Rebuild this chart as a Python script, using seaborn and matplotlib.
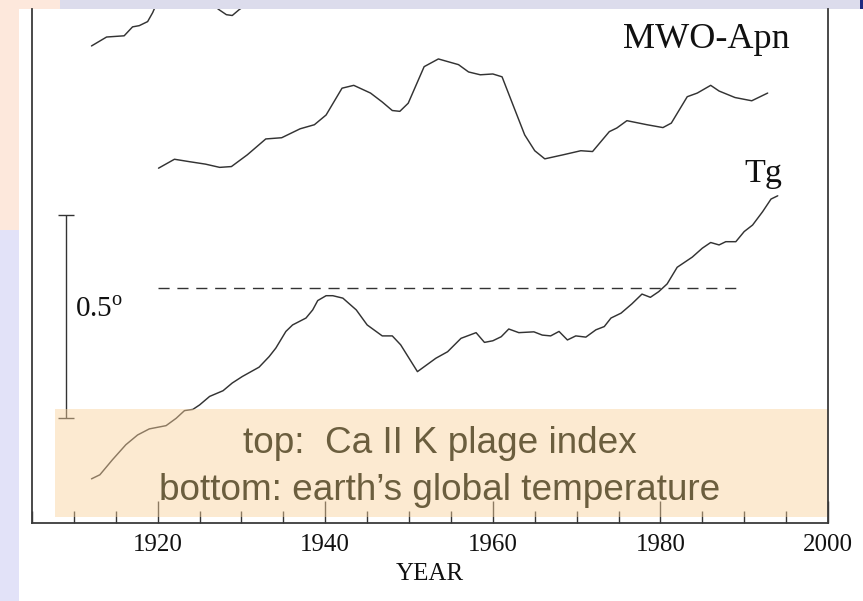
import matplotlib
matplotlib.use("Agg")
import matplotlib.pyplot as plt
from matplotlib.patches import Rectangle
from matplotlib.ticker import FixedLocator, MultipleLocator
import pandas as pd
import seaborn as sns

# Tg: global temperature, degrees relative to the dashed reference level
tg_years = [1912.1, 1913.1, 1914.6, 1916.2, 1917.6, 1919.0, 1921.0, 1922.2, 1923.2,
            1924.2, 1925.0, 1926.2, 1927.8, 1928.9, 1930.1, 1932.1, 1933.3, 1934.1,
            1935.3, 1936.1, 1937.7, 1938.5, 1939.1, 1940.1, 1940.9, 1942.1, 1943.7,
            1945.0, 1946.8, 1948.0, 1949.0, 1951.0, 1953.2, 1954.6, 1956.2, 1958.0,
            1959.0, 1960.0, 1961.0, 1961.9, 1963.1, 1964.9, 1965.9, 1966.9, 1967.9,
            1968.9, 1969.9, 1971.1, 1972.3, 1973.3, 1974.1, 1975.3, 1976.6, 1977.8,
            1978.8, 1979.8, 1980.8, 1982.0, 1983.8, 1985.0, 1986.0, 1987.0, 1987.8,
            1989.0, 1990.0, 1991.0, 1992.2, 1993.2, 1994.0]
tg_values = [-0.471, -0.461, -0.424, -0.387, -0.363, -0.348, -0.340, -0.322, -0.303,
             -0.300, -0.289, -0.268, -0.254, -0.235, -0.219, -0.196, -0.170, -0.149,
             -0.108, -0.092, -0.075, -0.055, -0.032, -0.020, -0.020, -0.026, -0.055,
             -0.092, -0.119, -0.119, -0.141, -0.207, -0.174, -0.158, -0.125, -0.111,
             -0.135, -0.131, -0.121, -0.102, -0.111, -0.109, -0.117, -0.119, -0.108,
             -0.129, -0.119, -0.122, -0.104, -0.096, -0.075, -0.063, -0.040, -0.016,
             -0.024, -0.010, 0.009, 0.050, 0.075, 0.097, 0.111, 0.105, 0.113,
             0.113, 0.138, 0.154, 0.187, 0.218, 0.226]

# MWO-Apn: Mount Wilson Ca II K plage index, plotted on the same vertical scale
mwo_years = [1920.1, 1922.0, 1923.8, 1925.7, 1927.4, 1928.8, 1930.7, 1932.9, 1934.8,
             1937.0, 1938.7, 1940.1, 1942.0, 1943.4, 1945.4, 1946.8, 1948.0, 1948.9,
             1949.9, 1951.8, 1953.5, 1955.9, 1957.1, 1958.5, 1960.0, 1961.1, 1962.4,
             1963.8, 1965.0, 1966.2, 1968.4, 1970.5, 1971.9, 1973.9, 1974.8, 1976.0,
             1978.4, 1980.3, 1981.3, 1983.2, 1984.4, 1986.0, 1987.0, 1988.9, 1990.9,
             1992.8]
mwo_values = [0.294, 0.316, 0.310, 0.304, 0.296, 0.298, 0.327, 0.366, 0.369,
              0.391, 0.401, 0.425, 0.491, 0.498, 0.479, 0.457, 0.436, 0.434,
              0.454, 0.544, 0.563, 0.549, 0.531, 0.524, 0.526, 0.519, 0.450,
              0.376, 0.337, 0.317, 0.327, 0.337, 0.335, 0.384, 0.393, 0.411,
              0.401, 0.394, 0.405, 0.470, 0.479, 0.498, 0.484, 0.468, 0.460,
              0.479]

# Upper plage series (runs off the top of the panel)
upper_years = [1912.1, 1913.9, 1916.0, 1917.0, 1917.8, 1918.8, 1919.4, 1920.3, 1922.0,
               1924.0, 1926.0, 1927.2, 1928.2, 1928.9, 1929.7, 1930.1, 1931.5]
upper_values = [0.595, 0.617, 0.620, 0.642, 0.645, 0.655, 0.677, 0.720, 0.760,
                0.780, 0.740, 0.686, 0.672, 0.670, 0.684, 0.690, 0.740]

ref_level = 0.0
ref_span = [1920.0, 1989.4]
scale_bar_year = 1909.1
scale_bar_range = [-0.321, 0.179]

x_ticks = [1920, 1940, 1960, 1980, 2000]
x_tick_labels = ["1920", "1940", "1960", "1980", "2000"]

W, H = 863, 601
line_color = "#333333"

sns.set_theme(style="white")
plt.rcParams["font.family"] = ["Liberation Serif", "DejaVu Serif"]
plt.rcParams["mathtext.fontset"] = "custom"
plt.rcParams["mathtext.rm"] = "Liberation Serif"

fig = plt.figure(figsize=(W / 100, H / 100), dpi=100, facecolor="#dcdcec")

# slide backdrop around the white chart panel
fig.add_artist(Rectangle((0, 0), 19 / W, 1, transform=fig.transFigure,
                         facecolor="#e2e2f8", edgecolor="none", zorder=-3))
fig.add_artist(Rectangle((0, (H - 230) / H), 19 / W, 230 / H, transform=fig.transFigure,
                         facecolor="#fde8dc", edgecolor="none", zorder=-3))
fig.add_artist(Rectangle((0, (H - 9) / H), 60 / W, 9 / H, transform=fig.transFigure,
                         facecolor="#fde8dc", edgecolor="none", zorder=-3))
fig.add_artist(Rectangle((19 / W, 0), 1 - 19 / W, (H - 9) / H, transform=fig.transFigure,
                         facecolor="white", edgecolor="none", zorder=-2))
fig.add_artist(Rectangle((860 / W, (H - 9) / H), 3 / W, 9 / H, transform=fig.transFigure,
                         facecolor="#1e2a80", edgecolor="none", zorder=-2))

ax = fig.add_axes([32 / W, (H - 522.7) / H, 796 / W, 513.7 / H])
ax.set_facecolor("none")

tg = pd.DataFrame({"year": tg_years, "value": tg_values})
mwo = pd.DataFrame({"year": mwo_years, "value": mwo_values})
upper = pd.DataFrame({"year": upper_years, "value": upper_values})

for df in (tg, mwo, upper):
    sns.lineplot(data=df, x="year", y="value", ax=ax, color=line_color,
                 linewidth=1.05, estimator=None, sort=False)

ax.plot(ref_span, [ref_level, ref_level], color=line_color, linewidth=1.0,
        linestyle=(0, (8, 5.6)))

# 0.5 degree scale bar
mid = sum(scale_bar_range) / 2
half = (scale_bar_range[1] - scale_bar_range[0]) / 2
ax.errorbar([scale_bar_year], [mid], yerr=[half], fmt="none", ecolor=line_color,
            elinewidth=1.0, capsize=6, capthick=1.0)
ax.text(0.054, 0.401, "0.5$^{\\mathrm{o}}$", transform=ax.transAxes,
        ha="left", va="baseline", fontsize=21, color="#111111")

ax.text(0.9523, 0.924, "MWO-Apn", transform=ax.transAxes, ha="right",
        va="baseline", fontsize=26, color="#111111")
ax.text(0.9422, 0.6629, "Tg", transform=ax.transAxes, ha="right",
        va="baseline", fontsize=24.5, color="#111111")

ax.set_xlim(1905, 2000)
ax.set_ylim(-0.579, 0.686)

ax.xaxis.set_major_locator(FixedLocator(x_ticks))
ax.set_xticklabels(x_tick_labels)
ax.xaxis.set_minor_locator(MultipleLocator(5))
ax.tick_params(axis="x", which="major", direction="in", length=16, width=1.0,
               color=line_color, labelsize=18, labelcolor="#111111", pad=8,
               bottom=True)
ax.tick_params(axis="x", which="minor", direction="in", length=8.6, width=1.0,
               color=line_color, bottom=True)
ax.tick_params(axis="y", left=False, labelleft=False)
ax.set_ylabel("")
ax.set_xlabel("YEAR", fontsize=18, color="#111111", labelpad=5)

for side in ("left", "bottom", "right"):
    ax.spines[side].set_visible(True)
    ax.spines[side].set_color("#3a3a3a")
    ax.spines[side].set_linewidth(1.3)
    ax.spines[side].set_zorder(5)
ax.spines["top"].set_visible(False)

# caption box over the lower part of the panel
ax.add_patch(Rectangle((0.0289, 0.0111), 0.9711, 0.2102, transform=ax.transAxes,
                       facecolor="#fad19b", alpha=0.45, edgecolor="none", zorder=3))
caption_font = dict(family=["Liberation Sans", "DejaVu Sans"], fontsize=26.6,
                    color="#6b5e3e", ha="center", va="baseline",
                    transform=ax.transAxes, zorder=4)
ax.text(0.5126, 0.1357, "top:  Ca II K plage index", **caption_font)
ax.text(0.5126, 0.0442, "bottom: earth\u2019s global temperature", **caption_font)

fig.savefig("out.png", dpi=100, facecolor=fig.get_facecolor())
